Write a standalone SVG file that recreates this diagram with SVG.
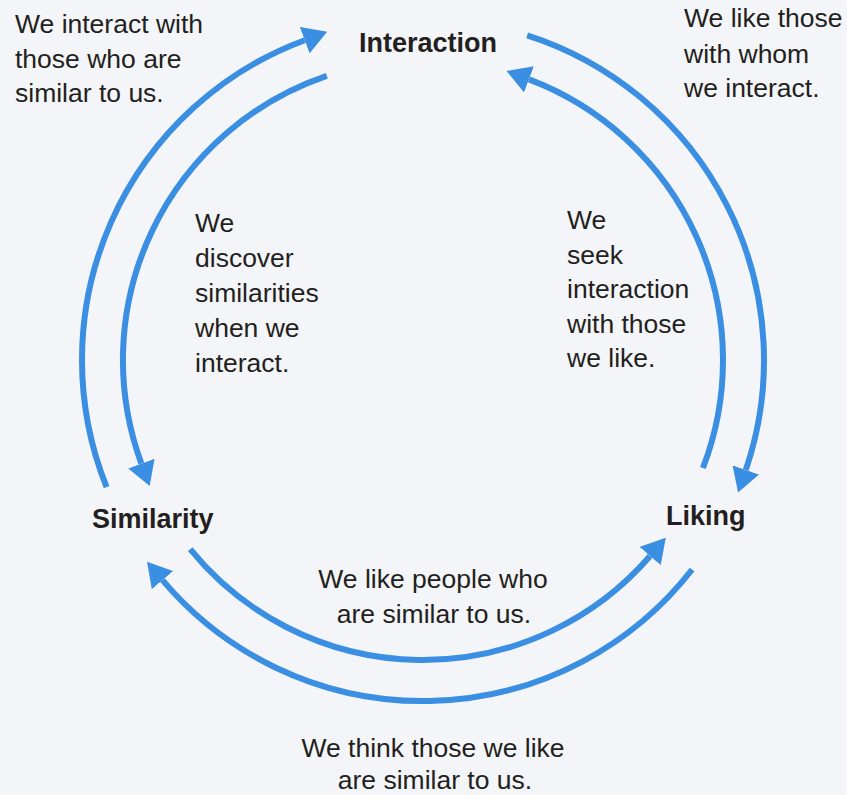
<svg xmlns="http://www.w3.org/2000/svg" width="847" height="795" viewBox="0 0 847 795">
  <style>
    .node { font-family: "Liberation Sans", Arial, Helvetica, sans-serif; font-weight: bold; font-size: 27px; fill: #231f20; }
    .lbl { font-family: "Liberation Sans", Arial, Helvetica, sans-serif; font-size: 26.5px; fill: #231f20; }
    .arc { fill: none; stroke: #3b8fe2; stroke-width: 6; marker-end: url(#ah); }
  </style>
  <defs>
    <marker id="ah" markerUnits="userSpaceOnUse" markerWidth="24" markerHeight="28" viewBox="0 0 24 28" refX="0" refY="14" orient="auto">
      <path d="M0,0 L24,14 L0,28 Z" fill="#3b8fe2"/>
    </marker>
  </defs>
  <rect x="0" y="0" width="847" height="795" fill="#f4f5f8"/>

  <g id="connectors">
    <path class="arc" d="M106.6,487.2 A341,341 0 0,1 304.7,40.2"/>
    <path class="arc" d="M326.8,75.8 A300,300 0 0,0 141.4,463.6"/>
    <path class="arc" d="M527.2,35.3 A341,341 0 0,1 745.8,469.9"/>
    <path class="arc" d="M702.9,468.0 A300,300 0 0,0 529.0,79.4"/>
    <path class="arc" d="M190.2,549.2 A300,300 0 0,0 650.1,556.0"/>
    <path class="arc" d="M692.1,569.5 A341,341 0 0,1 162.5,580.1"/>
  </g>

  <g id="node-interaction">
    <text class="node" x="428" y="52" text-anchor="middle">Interaction</text>
  </g>
  <g id="node-similarity">
    <text class="node" x="92" y="528">Similarity</text>
  </g>
  <g id="node-liking">
    <text class="node" x="666" y="525">Liking</text>
  </g>

  <g id="labels">
    <text class="lbl" x="15" y="33">We interact with</text>
    <text class="lbl" x="15" y="68">those who are</text>
    <text class="lbl" x="15" y="102">similar to us.</text>

    <text class="lbl" x="684" y="27">We like those</text>
    <text class="lbl" x="684" y="63">with whom</text>
    <text class="lbl" x="684" y="97">we interact.</text>

    <text class="lbl" x="195" y="232">We</text>
    <text class="lbl" x="195" y="267">discover</text>
    <text class="lbl" x="195" y="302">similarities</text>
    <text class="lbl" x="195" y="337">when we</text>
    <text class="lbl" x="195" y="372">interact.</text>

    <text class="lbl" x="567" y="229">We</text>
    <text class="lbl" x="567" y="264">seek</text>
    <text class="lbl" x="567" y="298">interaction</text>
    <text class="lbl" x="567" y="333">with those</text>
    <text class="lbl" x="567" y="367">we like.</text>

    <text class="lbl" x="433" y="588" text-anchor="middle">We like people who</text>
    <text class="lbl" x="434" y="623" text-anchor="middle">are similar to us.</text>

    <text class="lbl" x="433" y="757" text-anchor="middle">We think those we like</text>
    <text class="lbl" x="435" y="789" text-anchor="middle">are similar to us.</text>
  </g>
</svg>
